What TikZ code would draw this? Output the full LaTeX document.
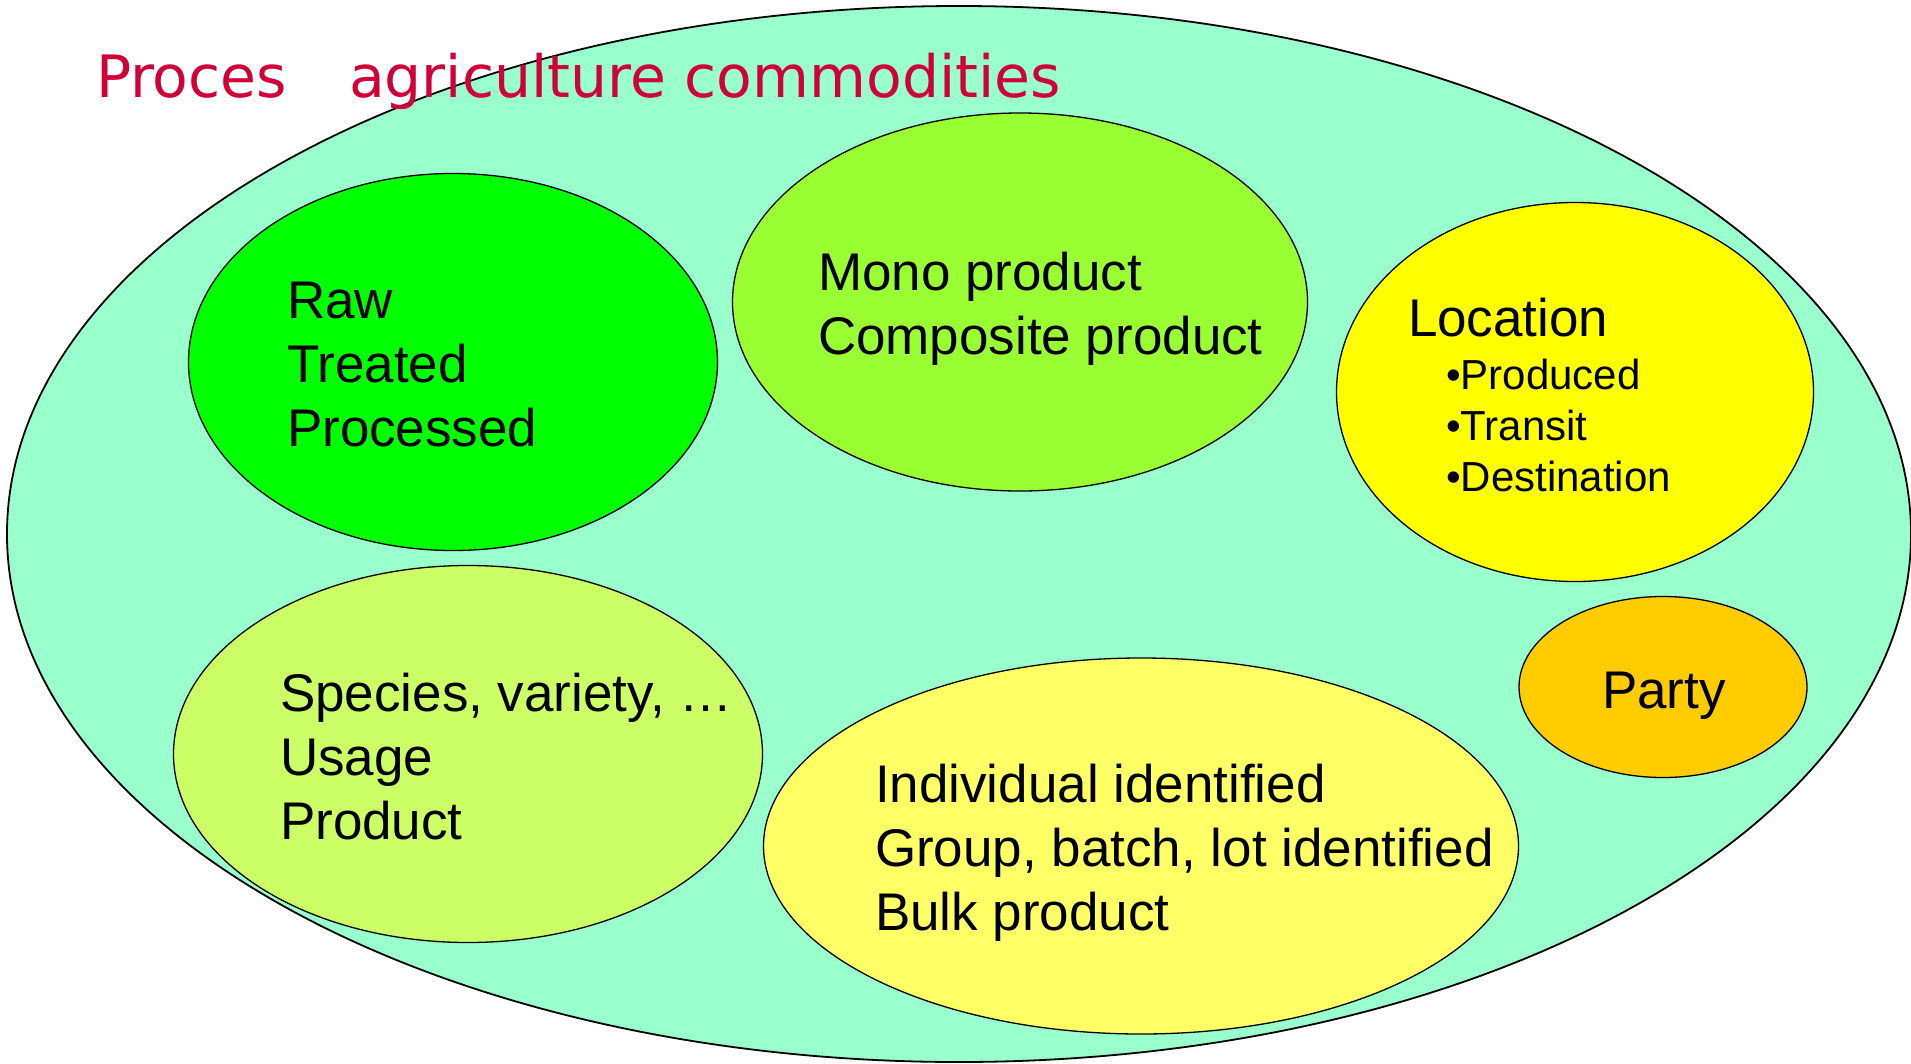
\documentclass[tikz,border=0pt]{standalone}
\usepackage{fontspec}
\setmainfont{Liberation Sans}
\newfontfamily\titlefont{DejaVu Sans}
\usetikzlibrary{shapes.geometric}
\definecolor{bigfill}{HTML}{99FFCC}
\definecolor{rawfill}{HTML}{00FF00}
\definecolor{monofill}{HTML}{99FF33}
\definecolor{locfill}{HTML}{FFFF00}
\definecolor{partyfill}{HTML}{FFCC00}
\definecolor{specfill}{HTML}{CCFF66}
\definecolor{indfill}{HTML}{FFFF66}
\definecolor{titlecol}{RGB}{208,0,56}
\tikzset{
  blob/.style={ellipse, draw=black, line width=1.3pt, inner sep=0pt, outer sep=0pt},
  bigblob/.style={ellipse, draw=black, line width=1.8pt, inner sep=0pt, outer sep=0pt},
  txt/.style={anchor=base west, inner sep=0pt, outer sep=0pt, text=black, font=\fontsize{53}{64}\selectfont},
  bul/.style={anchor=base west, inner sep=0pt, outer sep=0pt, text=black, font=\fontsize{42}{51}\selectfont},
  ttl/.style={anchor=base west, inner sep=0pt, outer sep=0pt, text=titlecol, font=\titlefont\fontsize{58.4}{70}\selectfont}
}
\begin{document}
\begin{tikzpicture}[x=1pt,y=-1pt]
\useasboundingbox (0,0) rectangle (1911,1063);
\node[bigblob, fill=bigfill, minimum width=1904pt, minimum height=1056pt] (big) at (959,534) {};
\node[ttl] (title) at (96,97) {Proces\hspace{62pt}agriculture commodities};
\node[blob, fill=rawfill, minimum width=529pt, minimum height=377pt] (raw) at (453,362) {};
\node[blob, fill=monofill, minimum width=575pt, minimum height=378pt] (mono) at (1020,302) {};
\node[blob, fill=locfill, minimum width=477pt, minimum height=379pt] (loc) at (1575,392) {};
\node[blob, fill=partyfill, minimum width=288pt, minimum height=181pt] (party) at (1663,687) {};
\node[blob, fill=specfill, minimum width=589pt, minimum height=377pt] (spec) at (468,754) {};
\node[blob, fill=indfill, minimum width=755pt, minimum height=376pt] (ind) at (1141,846) {};
\node[txt] (rawtxt) at (287,318) {\begin{tabular}[t]{@{}l@{}}Raw\\Treated\\Processed\end{tabular}};
\node[txt] (monotxt) at (818,290) {\begin{tabular}[t]{@{}l@{}}Mono product\\Composite product\end{tabular}};
\node[txt] (loctxt) at (1408,336) {Location};
\node[bul] (loctxtb) at (1446,389) {\begin{tabular}[t]{@{}l@{}}•Produced\\•Transit\\•Destination\end{tabular}};
\node[txt, anchor=base] (partytxt) at (1664,708) {Party};
\node[txt] (spectxt) at (280,711) {\begin{tabular}[t]{@{}l@{}}Species, variety, …\\Usage\\Product\end{tabular}};
\node[txt] (indtxt) at (875,802) {\begin{tabular}[t]{@{}l@{}}Individual identified\\Group, batch, lot identified\\Bulk product\end{tabular}};
\end{tikzpicture}
\end{document}
